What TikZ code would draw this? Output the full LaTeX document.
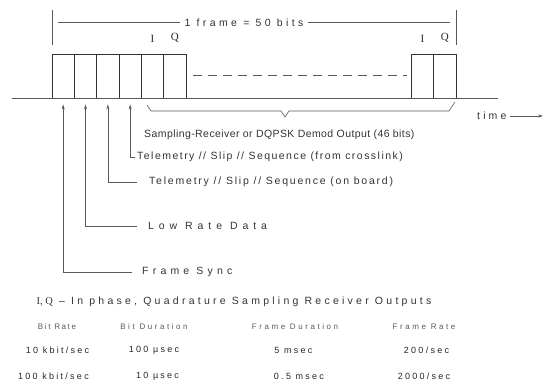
\documentclass[tikz,border=0pt]{standalone}
\usepackage{fontspec}
\setmainfont{Liberation Sans}
\newfontfamily\iqfont{Liberation Serif}
\usetikzlibrary{positioning,arrows.meta}

\begin{document}
\begin{tikzpicture}[x=1pt,y=-1pt,node distance=22.33pt,on grid,>={Stealth[length=5pt,width=3pt]},
    ink/.style={draw=black!65,line width=0.6pt},
    bitbox/.style={draw=black!80,line width=0.9pt,minimum width=22.33pt,minimum height=44pt,inner sep=0pt},
    iq/.style={text=black!85,font=\iqfont\fontsize{11}{12}\selectfont},
    tag/.style={anchor=west,inner sep=0pt,text=black!80,font=\fontsize{10.5}{12}\selectfont\addfontfeatures{LetterSpace=#1}},
    tag/.default=0,
    head/.style={text=black!65,font=\fontsize{8}{9}\selectfont\addfontfeatures{LetterSpace=#1}},
    head/.default=32,
    cell/.style={text=black!85,font=\fontsize{9}{10}\selectfont\addfontfeatures{LetterSpace=25}}]
  \useasboundingbox (0,0) rectangle (547,385);
  % one frame of bits
  \node[bitbox] (b1) at (63.17,76) {};
  \node[bitbox] (b2) [right=of b1] {};
  \node[bitbox] (b3) [right=of b2] {};
  \node[bitbox] (b4) [right=of b3] {};
  \node[bitbox] (b5) [right=of b4] {};
  \node[bitbox] (b6) [right=of b5] {};
  \node[bitbox] (q2) at (444.8,76) {};
  \node[bitbox] (i2) [left=of q2] {};
  \node[iq] (li1) [above=8pt of b5.north] {I};
  \node[iq] (lq1) [above=8pt of b6.north] {Q};
  \node[iq] (li2) [above=8pt of i2.north] {I};
  \node[iq] (lq2) [above=8pt of q2.north] {Q};
  \draw[ink] (12,98) -- (498,98);
  \draw[ink,dash pattern=on 9pt off 6pt] (193,75) -- (407,75);
  % frame length
  \node[tag=32,anchor=center,inner sep=4pt] (frame) at (244,22.7) {1 frame = 50 bits};
  \draw[ink] (52,10) -- (52,45);
  \draw[ink] (456,10) -- (456,45);
  \draw[ink] (58,22.7) -- (frame.west);
  \draw[ink] (frame.east) -- (450,22.7);
  \draw[ink] (147,105) -- (151,111) -- (281,111) -- (285,117) -- (289,111) -- (449,111) -- (455,102);
  \node[tag=30] (time) at (477,116) {time};
  \coordinate (tend) at (543,116);
  \draw[ink,->] ([xshift=3pt]time.east) -- (tend);
  % bit labels
  \node[tag=4] (samp) at (144,135) {Sampling-Receiver or DQPSK Demod Output (46 bits)};
  \node[tag=14] (tx) at (137,157) {Telemetry // Slip // Sequence (from crosslink)};
  \node[tag=17] (tb) at (149,182) {Telemetry // Slip // Sequence (on board)};
  \node[tag=47] (lrd) at (148,226) {Low Rate Data};
  \node[tag=40] (fs) at (142,272) {Frame Sync};
  \draw[ink,->,shorten >=6pt] ([xshift=-2pt]tx.west) -| (b4.south);
  \draw[ink,->,shorten >=6pt] ([xshift=-12pt]tb.west) -| (b3.south);
  \draw[ink,->,shorten >=6pt] ([xshift=-11pt]lrd.west) -| (b2.south);
  \draw[ink,->,shorten >=6pt] ([xshift=-10pt]fs.west) -| (b1.south);
  \node[tag=31,anchor=center] (note) at (234,302) {{\iqfont I, Q} -- In phase, Quadrature Sampling Receiver Outputs};
  % rates
  \node[head=20] (h1) at (57,327) {Bit Rate};
  \node[head] (h2) at (154,327) {Bit Duration};
  \node[head] (h3) at (295,327) {Frame Duration};
  \node[head] (h4) at (424,327) {Frame Rate};
  \node[cell] (r11) at (57.5,350) {10 kbit/sec};
  \node[cell] (r12) at (154,350) {100 µsec};
  \node[cell] (r13) at (293.5,350) {5 msec};
  \node[cell] (r14) at (426.5,350) {200/sec};
  \node[cell] (r21) at (53.5,376) {100 kbit/sec};
  \node[cell] (r22) at (157.5,376) {10 µsec};
  \node[cell] (r23) at (299,376) {0.5 msec};
  \node[cell] (r24) at (424,376) {2000/sec};
\end{tikzpicture}
\end{document}
